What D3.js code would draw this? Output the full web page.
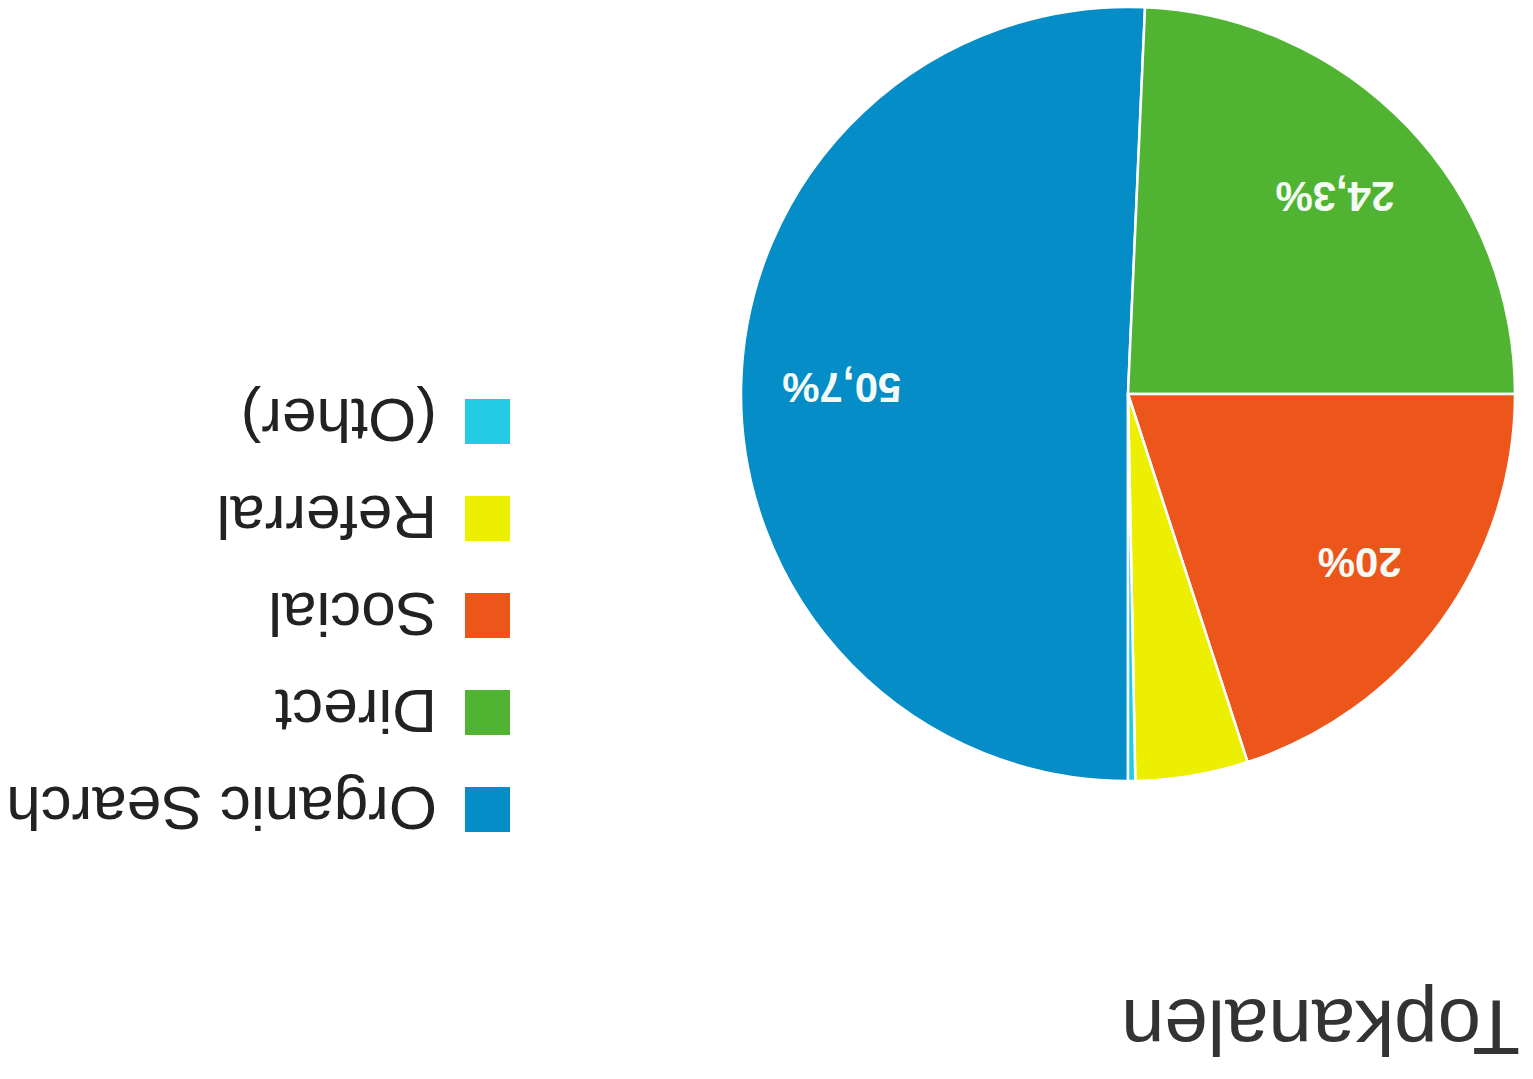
<!DOCTYPE html>
<html>
<head>
<meta charset="utf-8">
<script src="https://cdn.jsdelivr.net/npm/d3@7"></script>
<style>
  html, body { margin: 0; padding: 0; background: #fff; }
  #chart { width: 1533px; height: 1079px; }
</style>
</head>
<body>
<div id="chart"></div>
<script>
"use strict";

// data
const channels = ["Organic Search", "Direct", "Social", "Referral", "(Other)"];
const shares = [50.7, 24.3, 20, 4.7, 0.3];
const channel_colors = ["#058dc7", "#50b432", "#ed561b", "#edef00", "#24cbe5"];
const chart_title = "Topkanalen";

const W = 1533, H = 1079;

let chart_svg = d3.select("#chart").append("svg")
  .attr("width", W)
  .attr("height", H);

// the whole picture is shown upside down
let root = chart_svg.append("g")
  .attr("transform", "rotate(180," + W / 2 + "," + H / 2 + ")");

root.append("rect").attr("width", W).attr("height", H).attr("fill", "#fff");

// title
root.append("text")
  .attr("x", 13)
  .attr("y", 79)
  .attr("font-family", "Liberation Sans, Arial, sans-serif")
  .attr("font-size", 78)
  .attr("fill", "#333")
  .text(chart_title);

// pie
const cx = 405, cy = 685, radius = 387;

let pie = d3.pie().sort(null).value(d => d);
let arcs = pie(shares);
let arc = d3.arc().innerRadius(0).outerRadius(radius);
let label_arc = d3.arc().innerRadius(radius * 0.74).outerRadius(radius * 0.74);

let pie_g = root.append("g").attr("transform", "translate(" + cx + "," + cy + ")");

pie_g.selectAll("path.slice")
  .data(arcs)
  .enter()
  .append("path")
  .attr("class", "slice")
  .attr("d", arc)
  .attr("fill", (d, i) => channel_colors[i])
  .attr("stroke", "#fff")
  .attr("stroke-width", 2.5)
  .attr("stroke-linejoin", "round");

// only bigger slices get a label
pie_g.selectAll("text.pct")
  .data(arcs.filter(d => d.data >= 10))
  .enter()
  .append("text")
  .attr("class", "pct")
  .attr("x", d => label_arc.centroid(d)[0])
  .attr("y", d => label_arc.centroid(d)[1])
  .attr("text-anchor", "middle")
  .attr("dominant-baseline", "central")
  .attr("font-family", "Liberation Sans, Arial, sans-serif")
  .attr("font-weight", "bold")
  .attr("font-size", 42)
  .attr("fill", "#f4fbf4")
  .text(d => String(d.data).replace(".", ",") + "%");

// legend
const leg_x = 1023, leg_y0 = 247, leg_step = 97, sw = 45;

let leg = root.append("g").selectAll("g.leg")
  .data(channels)
  .enter()
  .append("g")
  .attr("class", "leg")
  .attr("transform", (d, i) => "translate(" + leg_x + "," + (leg_y0 + i * leg_step) + ")");

leg.append("rect")
  .attr("width", sw)
  .attr("height", sw)
  .attr("fill", (d, i) => channel_colors[i]);

leg.append("text")
  .attr("x", 73)
  .attr("y", sw)
  .attr("font-family", "Liberation Sans, Arial, sans-serif")
  .attr("font-size", 62)
  .attr("fill", "#222")
  .text(d => d);
</script>
</body>
</html>
